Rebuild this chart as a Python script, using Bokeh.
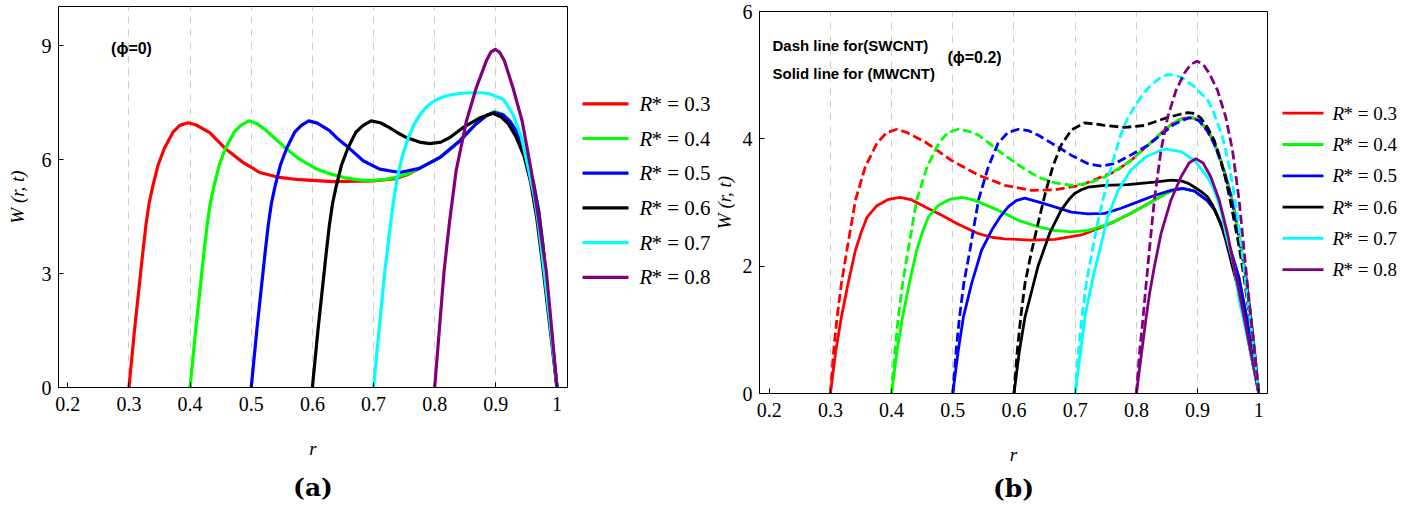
from bokeh.plotting import figure
from bokeh.layouts import row, column
from bokeh.models import Range1d, FixedTicker, Label, Title
from bokeh.core.properties import value
from bokeh.embed import file_html
from bokeh.resources import INLINE

# ---------------------------------------------------------------- data
R_STAR = [0.3, 0.4, 0.5, 0.6, 0.7, 0.8]
COLORS = ["#ff0000", "#00ff00", "#0000ff", "#000000", "#00ffff", "#800080"]
X_TICKS = [0.2, 0.3, 0.4, 0.5, 0.6, 0.7, 0.8, 0.9, 1.0]
GRID_R = [0.3, 0.4, 0.5, 0.6, 0.7, 0.8, 0.9]
A_Y_TICKS = [0, 3, 6, 9]
B_Y_TICKS = [0, 2, 4, 6]

# panel (a): phi = 0
a_r_03 = [0.300, 0.309, 0.319, 0.323, 0.328, 0.333, 0.339, 0.3475, 0.358, 0.372, 0.383, 0.397, 0.410, 0.432,
          0.459, 0.487, 0.514, 0.546, 0.579, 0.634, 0.699, 0.737, 0.755, 0.775, 0.808, 0.841, 0.867, 0.885,
          0.898, 0.912, 0.923, 0.934, 0.944, 0.953, 0.961, 0.970, 0.977, 0.9815, 0.990, 1.000]
a_w_03 = [0.00, 1.49, 3.00, 3.60, 4.30, 4.85, 5.30, 5.85, 6.30, 6.72, 6.90, 6.97, 6.91, 6.71,
          6.27, 5.92, 5.66, 5.53, 5.47, 5.42, 5.44, 5.50, 5.60, 5.77, 6.05, 6.49, 6.93, 7.17,
          7.25, 7.18, 7.02, 6.75, 6.32, 5.90, 5.44, 4.65, 3.75, 3.00, 1.55, 0.00]

a_r_04 = [0.400, 0.409, 0.419, 0.423, 0.428, 0.433, 0.439, 0.4475, 0.458, 0.472, 0.483, 0.496, 0.510, 0.525,
          0.552, 0.579, 0.607, 0.628, 0.656, 0.680, 0.699, 0.720, 0.737, 0.755, 0.775, 0.808, 0.841, 0.867,
          0.885, 0.898, 0.912, 0.923, 0.934, 0.944, 0.953, 0.961, 0.970, 0.977, 0.9815, 0.990, 1.000]
a_w_04 = [0.00, 1.49, 3.00, 3.60, 4.30, 4.85, 5.30, 5.85, 6.30, 6.72, 6.90, 7.02, 6.94, 6.76,
          6.36, 6.01, 5.75, 5.63, 5.51, 5.46, 5.45, 5.48, 5.53, 5.62, 5.77, 6.05, 6.49, 6.93,
          7.17, 7.26, 7.19, 7.02, 6.75, 6.32, 5.90, 5.44, 4.65, 3.75, 3.00, 1.55, 0.00]

a_r_05 = [0.500, 0.509, 0.519, 0.523, 0.528, 0.533, 0.539, 0.5475, 0.558, 0.571, 0.582, 0.594, 0.608, 0.628,
          0.642, 0.656, 0.683, 0.710, 0.743, 0.775, 0.808, 0.841, 0.867, 0.885, 0.898, 0.912, 0.923, 0.934,
          0.944, 0.953, 0.961, 0.970, 0.977, 0.9815, 0.990, 1.000]
a_w_05 = [0.00, 1.49, 3.00, 3.60, 4.30, 4.85, 5.30, 5.85, 6.30, 6.72, 6.90, 7.02, 6.96, 6.76,
          6.54, 6.36, 5.97, 5.75, 5.66, 5.77, 6.05, 6.49, 6.93, 7.16, 7.24, 7.17, 7.00, 6.73,
          6.30, 5.88, 5.42, 4.63, 3.73, 3.00, 1.55, 0.00]

a_r_06 = [0.600, 0.609, 0.619, 0.623, 0.628, 0.633, 0.639, 0.6475, 0.658, 0.671, 0.683, 0.696, 0.711, 0.726,
          0.740, 0.754, 0.775, 0.792, 0.810, 0.825, 0.846, 0.874, 0.895, 0.908, 0.920, 0.933, 0.946, 0.957,
          0.967, 0.976, 0.988, 1.000]
a_w_06 = [0.00, 1.49, 3.00, 3.60, 4.30, 4.85, 5.30, 5.85, 6.30, 6.72, 6.90, 7.02, 6.97, 6.84,
          6.70, 6.58, 6.46, 6.42, 6.46, 6.58, 6.84, 7.10, 7.22, 7.13, 6.95, 6.60, 6.10, 5.40,
          4.45, 3.30, 1.65, 0.00]

a_r_07 = [0.700, 0.709, 0.718, 0.7226, 0.728, 0.734, 0.740, 0.748, 0.7563, 0.766, 0.7754, 0.786, 0.797, 0.810,
          0.8245, 0.840, 0.857, 0.878, 0.890, 0.912, 0.928, 0.942, 0.954, 0.962, 0.969, 0.979, 0.990, 1.000]
a_w_07 = [0.00, 1.50, 3.00, 3.60, 4.35, 5.05, 5.62, 6.15, 6.55, 6.92, 7.17, 7.38, 7.52, 7.63,
          7.70, 7.74, 7.76, 7.76, 7.73, 7.59, 7.19, 6.58, 5.70, 5.10, 4.39, 3.07, 1.50, 0.00]

a_r_08 = [0.800, 0.808, 0.815, 0.819, 0.8245, 0.835, 0.852, 0.868, 0.8845, 0.892, 0.899, 0.906, 0.914, 0.928,
          0.943, 0.958, 0.9705, 0.9825, 0.991, 1.000]
a_w_08 = [0.00, 1.60, 3.00, 3.60, 4.39, 5.70, 7.02, 7.89, 8.60, 8.83, 8.90, 8.83, 8.60, 7.89,
          7.02, 5.70, 4.39, 3.07, 1.60, 0.00]

# panel (b): phi = 0.2, SWCNT (dashed)
b_r_03_sw = [0.300, 0.3055, 0.311, 0.318, 0.327, 0.341, 0.357, 0.376, 0.392, 0.409, 0.425, 0.455, 0.498, 0.542,
             0.585, 0.629, 0.667, 0.710, 0.737, 0.764, 0.791, 0.819, 0.846, 0.862, 0.873, 0.889, 0.902, 0.916,
             0.927, 0.938, 0.946, 0.954, 0.961, 0.968, 0.979, 0.990, 1.000]
b_w_03_sw = [0.00, 0.68, 1.20, 1.73, 2.25, 3.04, 3.56, 3.93, 4.10, 4.15, 4.10, 3.95, 3.66, 3.43,
             3.27, 3.19, 3.20, 3.27, 3.38, 3.48, 3.66, 3.90, 4.14, 4.26, 4.31, 4.34, 4.29, 4.14,
             3.94, 3.66, 3.42, 3.14, 2.82, 2.46, 1.83, 0.95, 0.00]

b_r_04_sw = [0.400, 0.4055, 0.411, 0.418, 0.427, 0.441, 0.458, 0.477, 0.492, 0.509, 0.525, 0.542, 0.574, 0.607,
             0.639, 0.667, 0.694, 0.721, 0.748, 0.775, 0.791, 0.819, 0.846, 0.862, 0.873, 0.889, 0.902, 0.916,
             0.927, 0.938, 0.946, 0.954, 0.961, 0.968, 0.979, 0.990, 1.000]
b_w_04_sw = [0.00, 0.68, 1.20, 1.73, 2.25, 3.04, 3.56, 3.93, 4.10, 4.15, 4.12, 4.06, 3.82, 3.59,
             3.40, 3.31, 3.27, 3.30, 3.40, 3.56, 3.66, 3.90, 4.14, 4.26, 4.31, 4.34, 4.29, 4.14,
             3.94, 3.66, 3.42, 3.14, 2.82, 2.46, 1.83, 0.95, 0.00]

b_r_05_sw = [0.500, 0.5055, 0.511, 0.518, 0.528, 0.542, 0.558, 0.574, 0.590, 0.607, 0.623, 0.639, 0.667, 0.694,
             0.721, 0.743, 0.764, 0.786, 0.819, 0.846, 0.862, 0.873, 0.886, 0.902, 0.916, 0.927, 0.938, 0.946,
             0.954, 0.961, 0.968, 0.979, 0.990, 1.000]
b_w_05_sw = [0.00, 0.68, 1.20, 1.73, 2.25, 3.04, 3.56, 3.93, 4.10, 4.15, 4.13, 4.06, 3.90, 3.74,
             3.61, 3.57, 3.61, 3.72, 3.90, 4.11, 4.23, 4.28, 4.33, 4.29, 4.12, 3.92, 3.64, 3.40,
             3.12, 2.80, 2.44, 1.82, 0.94, 0.00]

b_r_06_sw = [0.600, 0.6055, 0.611, 0.618, 0.628, 0.640, 0.652, 0.664, 0.677, 0.694, 0.715, 0.735, 0.748, 0.781,
             0.813, 0.846, 0.873, 0.884, 0.895, 0.905, 0.916, 0.927, 0.936, 0.945, 0.953, 0.960, 0.968, 0.975,
             0.988, 1.000]
b_w_06_sw = [0.00, 0.68, 1.20, 1.73, 2.20, 2.70, 3.18, 3.58, 3.90, 4.14, 4.25, 4.23, 4.21, 4.18,
             4.21, 4.32, 4.39, 4.41, 4.40, 4.33, 4.18, 3.98, 3.72, 3.40, 3.05, 2.70, 2.30, 1.88,
             1.00, 0.00]

b_r_07_sw = [0.700, 0.7055, 0.711, 0.718, 0.728, 0.737, 0.7453, 0.7588, 0.775, 0.786, 0.7967, 0.809, 0.8212,
             0.8402, 0.8512, 0.862, 0.873, 0.8945, 0.9163, 0.925, 0.9326, 0.940, 0.946, 0.957, 0.9652, 0.9722,
             0.9786, 0.990, 1.000]
b_w_07_sw = [0.00, 0.68, 1.20, 1.73, 2.25, 2.70, 3.04, 3.56, 4.08, 4.33, 4.50, 4.68, 4.82,
             4.97, 5.01, 5.00, 4.97, 4.82, 4.61, 4.45, 4.24, 4.05, 3.82, 3.30, 2.77, 2.25,
             1.73, 0.85, 0.00]

b_r_08_sw = [0.800, 0.8055, 0.811, 0.8135, 0.8212, 0.8293, 0.8402, 0.8511, 0.8647, 0.8782, 0.889, 0.899, 0.909,
             0.919, 0.9326, 0.946, 0.957, 0.9678, 0.9759, 0.984, 0.992, 1.000]
b_w_08_sw = [0.00, 0.68, 1.20, 1.47, 2.25, 3.04, 3.82, 4.34, 4.76, 5.03, 5.17, 5.22, 5.17,
             5.03, 4.76, 4.34, 3.82, 3.04, 2.25, 1.47, 0.75, 0.00]

# panel (b): phi = 0.2, MWCNT (solid)
b_r_03_mw = [0.300, 0.309, 0.318, 0.329, 0.341, 0.351, 0.360, 0.376, 0.395, 0.414, 0.433, 0.455, 0.482, 0.509,
             0.542, 0.565, 0.585, 0.629, 0.667, 0.710, 0.737, 0.764, 0.791, 0.819, 0.846, 0.862, 0.877, 0.895,
             0.916, 0.928, 0.938, 0.947, 0.954, 0.962, 0.968, 0.980, 0.990, 1.000]
b_w_03_mw = [0.00, 0.68, 1.20, 1.73, 2.25, 2.55, 2.77, 2.95, 3.05, 3.08, 3.04, 2.93, 2.80, 2.66,
             2.51, 2.45, 2.43, 2.41, 2.42, 2.49, 2.59, 2.70, 2.83, 2.98, 3.13, 3.20, 3.22, 3.18,
             3.03, 2.88, 2.67, 2.45, 2.25, 2.00, 1.80, 1.20, 0.60, 0.00]

b_r_04_mw = [0.400, 0.409, 0.418, 0.429, 0.441, 0.451, 0.460, 0.476, 0.495, 0.514, 0.530, 0.542, 0.574, 0.607,
             0.639, 0.667, 0.694, 0.721, 0.748, 0.764, 0.791, 0.819, 0.846, 0.862, 0.877, 0.895, 0.916, 0.928,
             0.938, 0.947, 0.954, 0.962, 0.968, 0.980, 0.990, 1.000]
b_w_04_mw = [0.00, 0.68, 1.20, 1.73, 2.25, 2.55, 2.77, 2.95, 3.05, 3.08, 3.05, 3.01, 2.88, 2.72,
             2.62, 2.56, 2.54, 2.56, 2.64, 2.70, 2.83, 2.98, 3.13, 3.20, 3.22, 3.18, 3.03, 2.88,
             2.67, 2.45, 2.25, 2.00, 1.80, 1.20, 0.60, 0.00]

b_r_05_mw = [0.500, 0.509, 0.5173, 0.5308, 0.547, 0.5633, 0.577, 0.5905, 0.6035, 0.6176, 0.6394, 0.6665, 0.6937,
             0.7208, 0.748, 0.775, 0.8023, 0.8293, 0.8565, 0.875, 0.895, 0.916, 0.928, 0.938, 0.947, 0.954,
             0.962, 0.968, 0.980, 0.990, 1.000]
b_w_05_mw = [0.00, 0.68, 1.20, 1.73, 2.25, 2.56, 2.77, 2.93, 3.03, 3.07, 3.01, 2.93, 2.85,
             2.82, 2.83, 2.91, 3.01, 3.11, 3.19, 3.22, 3.18, 3.03, 2.88, 2.67, 2.45, 2.25,
             2.00, 1.80, 1.20, 0.60, 0.00]

b_r_06_mw = [0.600, 0.609, 0.618, 0.626, 0.639, 0.658, 0.677, 0.690, 0.699, 0.710, 0.721, 0.748, 0.786, 0.829,
             0.857, 0.873, 0.885, 0.895, 0.906, 0.916, 0.925, 0.933, 0.940, 0.946, 0.957, 0.971, 0.985, 1.000]
b_w_06_mw = [0.00, 0.68, 1.20, 1.50, 1.99, 2.51, 2.88, 3.05, 3.14, 3.20, 3.24, 3.27, 3.28, 3.32,
             3.35, 3.34, 3.30, 3.24, 3.17, 3.09, 2.95, 2.77, 2.60, 2.41, 1.99, 1.47, 0.72, 0.00]

b_r_07_mw = [0.700, 0.709, 0.716, 0.722, 0.731, 0.740, 0.753, 0.770, 0.791, 0.816, 0.840, 0.848, 0.873, 0.895,
             0.916, 0.925, 0.933, 0.940, 0.946, 0.953, 0.9596, 0.9678, 0.985, 1.000]
b_w_07_mw = [0.00, 0.68, 1.20, 1.50, 1.90, 2.25, 2.77, 3.19, 3.51, 3.72, 3.82, 3.84, 3.80, 3.66,
             3.40, 3.24, 3.04, 2.80, 2.51, 2.25, 1.99, 1.47, 0.72, 0.00]

b_r_08_mw = [0.800, 0.809, 0.816, 0.8212, 0.8293, 0.8402, 0.8565, 0.8728, 0.886, 0.8972, 0.909, 0.9217, 0.9352,
             0.9489, 0.9596, 0.9705, 0.985, 1.000]
b_w_08_mw = [0.00, 0.68, 1.20, 1.55, 1.99, 2.51, 3.04, 3.40, 3.62, 3.69, 3.62, 3.40, 3.04,
             2.51, 1.99, 1.47, 0.75, 0.00]

A_SERIES = [(a_r_03, a_w_03), (a_r_04, a_w_04), (a_r_05, a_w_05),
            (a_r_06, a_w_06), (a_r_07, a_w_07), (a_r_08, a_w_08)]
B_SOLID = [(b_r_03_mw, b_w_03_mw), (b_r_04_mw, b_w_04_mw), (b_r_05_mw, b_w_05_mw),
           (b_r_06_mw, b_w_06_mw), (b_r_07_mw, b_w_07_mw), (b_r_08_mw, b_w_08_mw)]
B_DASHED = [(b_r_03_sw, b_w_03_sw), (b_r_04_sw, b_w_04_sw), (b_r_05_sw, b_w_05_sw),
            (b_r_06_sw, b_w_06_sw), (b_r_07_sw, b_w_07_sw), (b_r_08_sw, b_w_08_sw)]

# ---------------------------------------------------------------- styling
SANS = "Liberation Sans Narrow"
BOLD_SANS = "Liberation Sans"
SERIF = "DejaVu Serif"


def make_panel(width, x_range, y_range, y_ticks, borders):
    left, right, top, bottom = borders
    p = figure(width=width, height=514, x_range=Range1d(*x_range), y_range=Range1d(*y_range),
               output_backend="svg", toolbar_location=None, title=None,
               min_border_left=left, min_border_right=right,
               min_border_top=top, min_border_bottom=bottom)
    p.background_fill_color = "white"
    p.border_fill_color = "white"
    p.outline_line_color = "black"
    p.outline_line_width = 1

    p.xaxis.ticker = FixedTicker(ticks=X_TICKS)
    p.xaxis.major_label_overrides = {1.0: "1"}
    p.yaxis.ticker = FixedTicker(ticks=y_ticks)
    for ax in (p.xaxis, p.yaxis):
        ax.axis_line_color = "black"
        ax.major_tick_in = 5
        ax.major_tick_out = 0
        ax.minor_tick_line_color = None
        ax.major_tick_line_color = "black"
        ax.major_label_text_font = SANS
        ax.major_label_text_font_size = "20px"
        ax.major_label_text_color = "black"
        ax.axis_label_text_font = SANS
        ax.axis_label_text_font_size = "19px"
        ax.axis_label_text_font_style = "italic"
        ax.axis_label_text_color = "black"
    p.xaxis.axis_label = "r"
    p.yaxis.axis_label = "W (r, t)"
    p.xaxis.major_label_standoff = 9
    p.xaxis.axis_label_standoff = 24
    p.yaxis.major_label_standoff = 7

    p.xgrid.ticker = FixedTicker(ticks=GRID_R)
    p.xgrid.grid_line_color = "#cccccc"
    p.xgrid.grid_line_dash = "7 6"
    p.xgrid.grid_line_width = 1
    p.ygrid.visible = False
    return p


def legend_panel(width, key_x0, key_x1, text_x, row_y0, pitch, font_size, r_width, line_width):
    """A bare figure in pixel units that holds the key of one panel."""
    lf = figure(width=width, height=514, x_range=Range1d(0, width), y_range=Range1d(514, 0),
                output_backend="svg", toolbar_location=None, title=None,
                x_axis_location=None, y_axis_location=None,
                min_border_left=0, min_border_right=0, min_border_top=0, min_border_bottom=0)
    lf.outline_line_color = None
    lf.xgrid.visible = False
    lf.ygrid.visible = False
    n = len(R_STAR)
    ys = [row_y0 + i * pitch for i in range(n)]
    lf.segment(x0=[key_x0] * n, y0=ys, x1=[key_x1] * n, y1=ys,
               line_color=COLORS, line_width=line_width)
    lf.text(x=[text_x] * n, y=ys, text=["R"] * n, text_font=value(SANS),
            text_font_style="italic", text_font_size=font_size,
            text_baseline="middle", text_align="left", text_color="black")
    lf.text(x=[text_x + r_width] * n, y=ys, text=[f"* = {v}" for v in R_STAR],
            text_font=value(SANS), text_font_size=font_size,
            text_baseline="middle", text_align="left", text_color="black")
    return lf


def caption(p, text, offset, standoff):
    p.add_layout(Title(text=text, align="center", offset=offset, standoff=standoff,
                       text_font=SERIF, text_font_style="bold", text_font_size="25px",
                       text_color="black"), "below")


def note(p, text, x, y, align="left", size="15px"):
    p.add_layout(Label(x=x, y=y, x_units="screen", y_units="screen", text=text,
                       text_align=align, text_baseline="middle",
                       text_font=BOLD_SANS, text_font_style="bold", text_font_size=size,
                       text_color="black"))


# ---------------------------------------------------------------- panel (a)
pa = make_panel(572, (0.1848, 1.0172), (0, 10.03), A_Y_TICKS, (58, 5, 6, 127))
pa.yaxis.axis_label_standoff = 11
for (r, w), c in zip(A_SERIES, COLORS):
    pa.line(r, w, line_color=c, line_width=3.2)
note(pa, "(\u03d5=0)", 73, 339, align="center", size="16px")
caption(pa, "(a)", 7, 18)
leg_a = legend_panel(138, 10, 56, 67, 103.3, 34.7, "21px", 12, 3.2)

# ---------------------------------------------------------------- panel (b)
pb = make_panel(560, (0.1842, 1.0142), (0, 6.0), B_Y_TICKS, (47, 3, 11, 121))
pb.yaxis.axis_label_standoff = 5
for (r, w), c in zip(B_SOLID, COLORS):
    pb.line(r, w, line_color=c, line_width=2.8)
for (r, w), c in zip(B_DASHED, COLORS):
    pb.line(r, w, line_color=c, line_width=2.8, line_dash="9 4")
note(pb, "Dash line for(SWCNT)", 13, 348)
note(pb, "Solid line for (MWCNT)", 13, 320)
note(pb, "(\u03d5=0.2)", 215, 336, align="center", size="16px")
caption(pb, "(b)", 6, 8)
leg_b = legend_panel(136, 12, 53, 62, 112.7, 31.3, "19px", 11, 2.8)

layout = row(column(pa), column(leg_a), column(pb), column(leg_b))
open("out.html", "w").write(file_html(layout, INLINE))
